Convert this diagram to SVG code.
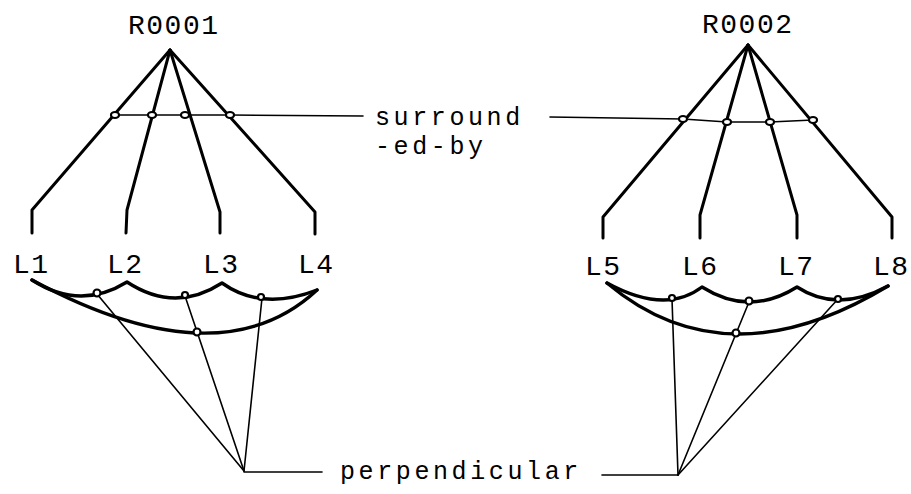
<svg xmlns="http://www.w3.org/2000/svg" width="911" height="494" viewBox="0 0 911 494">
<style>
.t{font-family:"Liberation Mono","DejaVu Sans Mono",monospace;font-size:28px;letter-spacing:1.5px;fill:#000}
.s{font-family:"Liberation Mono","DejaVu Sans Mono",monospace;font-size:25px;letter-spacing:3.6px;fill:#000}
.thick{fill:none;stroke:#000;stroke-width:3;stroke-linejoin:round;stroke-linecap:round}
.arc{fill:none;stroke:#000;stroke-width:3.4;stroke-linejoin:round;stroke-linecap:round}
.thin{fill:none;stroke:#000;stroke-width:1.6;stroke-linecap:round}
.dot{fill:#fff;stroke:#000;stroke-width:2.2}
</style>
<rect width="911" height="494" fill="#fff"/>
<g id="connectors">
  <polyline class="thick" points="170,50 32,210 32,233"/>
  <polyline class="thick" points="170,50 127,210 126,233"/>
  <polyline class="thick" points="170,50 220,212 220,233"/>
  <polyline class="thick" points="170,50 315,212 315,234"/>
  <polyline class="thick" points="748,45 603,217 603,238"/>
  <polyline class="thick" points="748,45 700,215 700,238"/>
  <polyline class="thick" points="748,45 797,215 797,238"/>
  <polyline class="thick" points="748,45 892,217 892,238"/>
  <polyline class="thin" points="113,115 230,115 363,116"/>
  <polyline class="thin" points="550,117 683,119 727,122 770,122 813,120"/>
  <path class="arc" d="M32,280 Q80,311 127,282 Q175,313.5 222,283 Q262,311.5 317,290"/>
  <path class="arc" d="M32,280 Q219.5,381 317,290"/>
  <path class="arc" d="M607,283 Q665.5,315 702,287 Q749.5,317 797,287 Q837.5,313.5 888,286"/>
  <path class="arc" d="M607,283 Q726.5,383.5 888,286"/>
  <line class="thin" x1="97" y1="294" x2="244" y2="471"/>
  <line class="thin" x1="185" y1="296" x2="244" y2="471"/>
  <line class="thin" x1="262" y1="298" x2="244" y2="471"/>
  <line class="thin" x1="244" y1="472" x2="322" y2="472"/>
  <line class="thin" x1="672" y1="299" x2="678" y2="475"/>
  <line class="thin" x1="749" y1="302" x2="678" y2="475"/>
  <line class="thin" x1="838" y1="299" x2="678" y2="475"/>
  <line class="thin" x1="602" y1="475" x2="678" y2="475"/>
  <ellipse class="dot" cx="115" cy="115" rx="4" ry="3"/>
  <ellipse class="dot" cx="152" cy="115" rx="4" ry="3"/>
  <ellipse class="dot" cx="185" cy="115" rx="4" ry="3"/>
  <ellipse class="dot" cx="230" cy="115" rx="4" ry="3"/>
  <ellipse class="dot" cx="683" cy="119" rx="4" ry="3"/>
  <ellipse class="dot" cx="727" cy="122" rx="4" ry="3"/>
  <ellipse class="dot" cx="770" cy="122" rx="4" ry="3"/>
  <ellipse class="dot" cx="813" cy="120" rx="4" ry="3"/>
  <circle class="dot" cx="97" cy="293" r="3.5"/>
  <circle class="dot" cx="185" cy="295" r="3"/>
  <circle class="dot" cx="261" cy="297" r="3"/>
  <circle class="dot" cx="197" cy="332" r="3.5"/>
  <circle class="dot" cx="672" cy="298" r="3"/>
  <circle class="dot" cx="749" cy="301" r="3.5"/>
  <circle class="dot" cx="838" cy="299" r="3"/>
  <circle class="dot" cx="736" cy="333" r="3.5"/>
</g>
<g id="R0001"><text class="t" x="128" y="34">R0001</text></g>
<g id="R0002"><text class="t" x="702" y="33">R0002</text></g>
<g id="L1"><text class="t" x="13" y="273">L1</text></g>
<g id="L2"><text class="t" x="107" y="273">L2</text></g>
<g id="L3"><text class="t" x="203" y="273">L3</text></g>
<g id="L4"><text class="t" x="298" y="273">L4</text></g>
<g id="L5"><text class="t" x="585" y="275">L5</text></g>
<g id="L6"><text class="t" x="682" y="275">L6</text></g>
<g id="L7"><text class="t" x="778" y="275">L7</text></g>
<g id="L8"><text class="t" x="873" y="275">L8</text></g>
<g id="surrounded-by"><text class="s" x="375" y="125">surround</text><text class="s" x="375" y="154">-ed-by</text></g>
<g id="perpendicular"><text class="s" x="340" y="479">perpendicular</text></g>
</svg>
